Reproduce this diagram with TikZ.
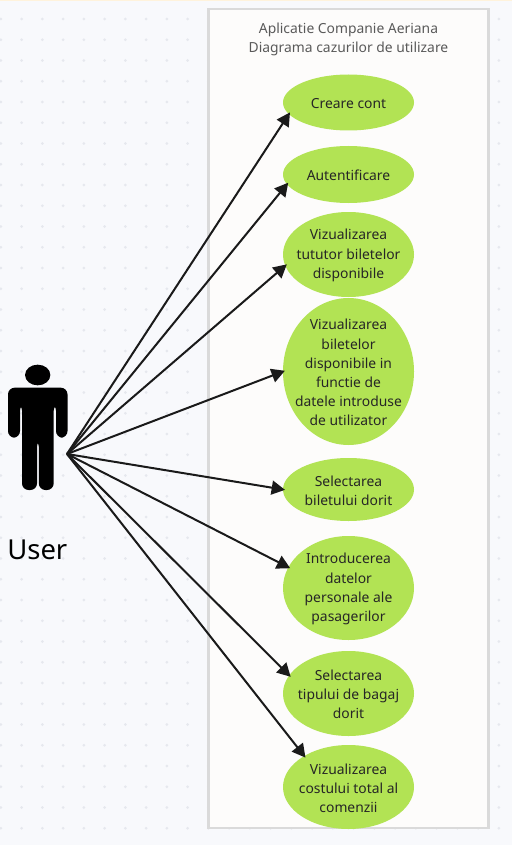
\documentclass[tikz,border=0pt]{standalone}
\usepackage{fontspec}
\setmainfont{Noto Sans}
\usetikzlibrary{shapes.geometric,arrows.meta}
\definecolor{pagebg}{HTML}{F8F9FC}
\definecolor{griddot}{HTML}{E6E8EE}
\definecolor{boxfill}{HTML}{FDFCFB}
\definecolor{boxline}{HTML}{DADADA}
\definecolor{ucgreen}{HTML}{B2E354}
\definecolor{titlegray}{HTML}{595959}
\definecolor{inkline}{HTML}{1A1A1A}
\definecolor{topline}{HTML}{FFF3DC}
\tikzset{
  x=0.75pt,y=-0.75pt,
  usecase/.style={ellipse,fill=ucgreen,draw=none,inner sep=0pt,outer sep=0pt,minimum width=98.25pt},
  uclabel/.style={font=\fontsize{10.4}{14.35}\selectfont,align=center,text=black!85,inner sep=0pt,yshift=-0.75pt},
  conn/.style={draw=inkline,line width=1.5pt,-{Triangle[length=10pt,width=10.5pt]},shorten >=-1.5pt},
}
\begin{document}
\begin{tikzpicture}
\useasboundingbox (0,0) rectangle (512,845);
\fill[pagebg] (0,0) rectangle (512,845);
\fill[topline] (0,0) rectangle (512,1.5);
\foreach \i in {0,...,24}{\foreach \j in {0,...,40}{
  \fill[griddot] ({0.9+20.75*\i},{19+20.75*\j}) circle[radius=1.5];
}}
\node[draw=boxline,line width=2pt,fill=boxfill,minimum width=210pt,minimum height=614.25pt,inner sep=0pt,outer sep=0pt,anchor=north west] (box) at (208.7,9) {};
\node[font=\fontsize{10.4}{14.4}\selectfont,align=center,text=titlegray,inner sep=0pt] (title) at (348.5,39.5) {Aplicatie Companie Aeriana\\Diagrama cazurilor de utilizare};

\node[usecase,minimum height=42pt,label={[uclabel]center:Creare cont}] (e1) at (348.5,102.5) {};
\node[usecase,minimum height=42.75pt,label={[uclabel]center:Autentificare}] (e2) at (348.5,174.5) {};
\node[usecase,minimum height=63.75pt,label={[uclabel]center:Vizualizarea\\tututor biletelor\\disponibile}] (e3) at (348.5,254.5) {};
\node[usecase,minimum height=110.25pt,label={[uclabel]center:Vizualizarea\\biletelor\\disponibile in\\functie de\\datele introduse\\de utilizator}] (e4) at (348.5,371.5) {};
\node[usecase,minimum height=47.25pt,label={[uclabel]center:Selectarea\\biletului dorit}] (e5) at (348.5,489.5) {};
\node[usecase,minimum height=78pt,label={[uclabel]center:Introducerea\\datelor\\personale ale\\pasagerilor}] (e6) at (348.5,588) {};
\node[usecase,minimum height=63.75pt,label={[uclabel]center:Selectarea\\tipului de bagaj\\dorit}] (e7) at (348.5,693.5) {};
\node[usecase,minimum height=63pt,label={[uclabel]center:Vizualizarea\\costului total al\\comenzii}] (e8) at (348.5,787) {};

% actor
\node[ellipse,fill=black,inner sep=0pt,minimum width=19pt,minimum height=15.5pt] (head) at (37.7,375) {};
\fill[black,rounded corners=5pt] (8,437.7) -- (8,387.7) -- (67.5,387.7) -- (67.5,437.7) -- (56,437.7) -- (56,404) -- (53.7,404) -- (53.7,490) -- (38.8,490) -- (38.8,440) -- (37,440) -- (37,490) -- (22,490) -- (22,404) -- (20,404) -- (20,437.7) -- cycle;
\node[font=\fontsize{20.6}{24}\selectfont,inner sep=0pt,text=black] (user) at (37.3,550) {User};
\coordinate (src) at (67,454);

\draw[conn] (src) -- (e1.191.5);
\draw[conn] (src) -- (e2.189.5);
\draw[conn] (src) -- (e3.190);
\draw[conn] (src) -- (e4.180);
\draw[conn] (src) -- (e5.180);
\draw[conn] (src) -- (e6.161);
\draw[conn] (src) -- (e7.163);
\draw[conn] (src) -- (e8.145);
\end{tikzpicture}
\end{document}
